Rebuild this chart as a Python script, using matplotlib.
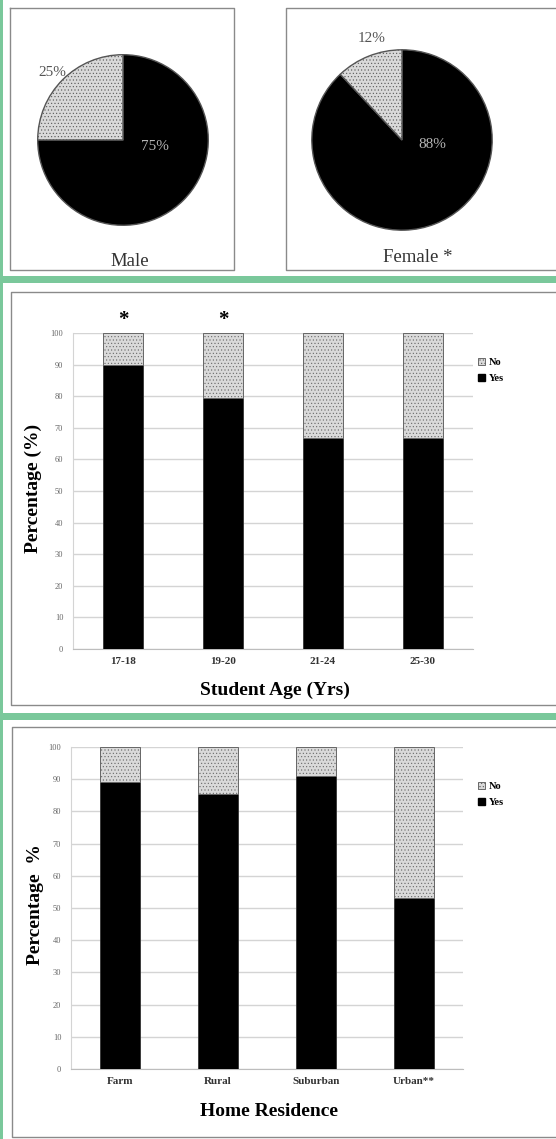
import matplotlib
matplotlib.use("Agg")
import matplotlib.pyplot as plt
from matplotlib.patches import Patch
import numpy as np

# Pie data (Yes, No)
pie_titles = ["Male", "Female *"]
pie_yes = [75, 88]
pie_no = [25, 12]

# Age bar chart
age_labels = ["17-18", "19-20", "21-24", "25-30"]
age_yes = [90, 79.5, 66.7, 66.7]
age_stars = ["*", "*", "", ""]

# Residence bar chart
res_labels = ["Farm", "Rural", "Suburban", "Urban**"]
res_yes = [89, 85.5, 91, 53]

W, H = 556, 1139
GREEN = "#7ac89b"
LIGHT = "#d9d9d9"
BOX = "#8a8a8a"

plt.rcParams["font.family"] = ["Liberation Serif", "DejaVu Serif"]
plt.rcParams["hatch.color"] = "#a0a0a0"
plt.rcParams["hatch.linewidth"] = 0.4

fig = plt.figure(figsize=(W / 100, H / 100), dpi=100)
fig.patch.set_facecolor("white")


def fx(x):
    return x / W


def fy(y):
    return 1 - y / H


def add_axes_px(x0, y0, x1, y1):
    return fig.add_axes([fx(x0), fy(y1), (x1 - x0) / W, (y1 - y0) / H])


def box_px(x0, y0, x1, y1, open_right=False):
    xs = [x1, x0, x0, x1] if open_right else [x0, x1, x1, x0, x0]
    ys = [y0, y0, y1, y1] if open_right else [y0, y0, y1, y1, y0]
    fig.add_artist(plt.Line2D([fx(v) for v in xs], [fy(v) for v in ys],
                              color=BOX, lw=1.0, transform=fig.transFigure))


# green separators
for y0, y1 in [(276, 283), (713, 720)]:
    fig.add_artist(plt.Rectangle((0, fy(y1)), 1, (y1 - y0) / H, color=GREEN,
                                 transform=fig.transFigure, lw=0))
fig.add_artist(plt.Rectangle((0, 0), 3 / W, 1, color=GREEN,
                             transform=fig.transFigure, lw=0))

# ---- pies ----
box_px(10, 8, 234, 270)
box_px(286, 8, 560, 270, open_right=True)

pie_centers = [(123, 140, 87), (402, 140, 92)]
pie_label_pos = [((38, 72), (155, 147)), ((358, 38), (432, 145))]
title_pos = [(130, 262), (418, 258)]

for i in range(2):
    cx, cy, r = pie_centers[i]
    ax = add_axes_px(cx - r, cy - r, cx + r, cy + r)
    wedges, _ = ax.pie([pie_yes[i], pie_no[i]], startangle=90, counterclock=False,
                       colors=["black", LIGHT], radius=1.0,
                       wedgeprops=dict(edgecolor="#555555", linewidth=1.0))
    wedges[1].set_hatch(".....")
    ax.set_xlim(-1.02, 1.02)
    ax.set_ylim(-1.02, 1.02)
    ax.axis("off")
    (nx, ny), (yx, yy) = pie_label_pos[i]
    fig.text(fx(nx), fy(ny), f"{pie_no[i]}%", fontsize=11, color="#555555",
             ha="left", va="center")
    fig.text(fx(yx), fy(yy), f"{pie_yes[i]}%", fontsize=11, color="#b5b5b5",
             ha="center", va="center")
    tx, ty = title_pos[i]
    fig.text(fx(tx), fy(ty), pie_titles[i], fontsize=13.5, color="#333333",
             ha="center", va="center")


# ---- stacked bars ----
def bar_panel(axbox, labels, yes, ylabel, xlabel, stars, legend_xy, ylabel_x, xlabel_y, tick_y):
    x0, y0, x1, y1 = axbox
    ax = add_axes_px(x0, y0, x1, y1)
    x = np.arange(len(labels))
    no = [100 - v for v in yes]
    ax.bar(x, yes, width=0.4, color="black", edgecolor="#333333", lw=0.6,
           label="Yes", zorder=3)
    ax.bar(x, no, bottom=yes, width=0.4, color=LIGHT, edgecolor="#666666",
           lw=0.7, hatch=".....", label="No", zorder=3)
    ax.set_xlim(-0.5, len(labels) - 0.5)
    ax.set_ylim(0, 100)
    ax.set_yticks(range(0, 101, 10))
    ax.yaxis.grid(True, color="#d4d4d4", lw=1.0, zorder=0)
    ax.set_axisbelow(True)
    for s in ["top", "right"]:
        ax.spines[s].set_visible(False)
    ax.spines["left"].set_color("#d4d4d4")
    ax.spines["bottom"].set_color("#bdbdbd")
    ax.tick_params(axis="both", length=0)
    ax.tick_params(axis="y", labelsize=6, labelcolor="#666666", pad=7)
    ax.set_xticks(x)
    ax.set_xticklabels(labels, fontsize=8, fontweight="bold", color="#333333")
    ax.tick_params(axis="x", pad=(tick_y - y1) * 0.72 - 4)
    for i, s in enumerate(stars):
        if s:
            ax.text(i, 104, s, ha="center", va="center", fontsize=15,
                    fontweight="bold", clip_on=False)
    fig.text(fx(ylabel_x), fy((y0 + y1) / 2 - 3), ylabel, rotation=90, fontsize=14,
             fontweight="bold", ha="center", va="center")
    fig.text(fx((x0 + x1) / 2 + 2), fy(xlabel_y), xlabel, fontsize=14,
             fontweight="bold", ha="center", va="center")
    handles = [Patch(facecolor=LIGHT, edgecolor="#555555", hatch=".....", lw=0.6),
               Patch(facecolor="black", edgecolor="black")]
    fig.legend(handles, ["No", "Yes"], loc="upper left",
               bbox_to_anchor=(fx(legend_xy[0]), fy(legend_xy[1])),
               frameon=False, prop=dict(size=7.5, weight="bold"),
               handlelength=0.7, handleheight=0.7, handletextpad=0.3,
               labelspacing=0.6, borderpad=0, borderaxespad=0)
    return ax


box_px(11, 292, 560, 705, open_right=True)
bar_panel((73, 333, 473, 649), age_labels, age_yes, "Percentage (%)",
          "Student Age (Yrs)", age_stars, (478, 358), 33, 690, 663)

box_px(12, 727, 560, 1137, open_right=True)
bar_panel((71, 747, 463, 1069), res_labels, res_yes, "Percentage  %",
          "Home Residence", ["", "", "", ""], (478, 782), 35, 1112, 1083)

fig.savefig("out.png", dpi=100, facecolor="white")
